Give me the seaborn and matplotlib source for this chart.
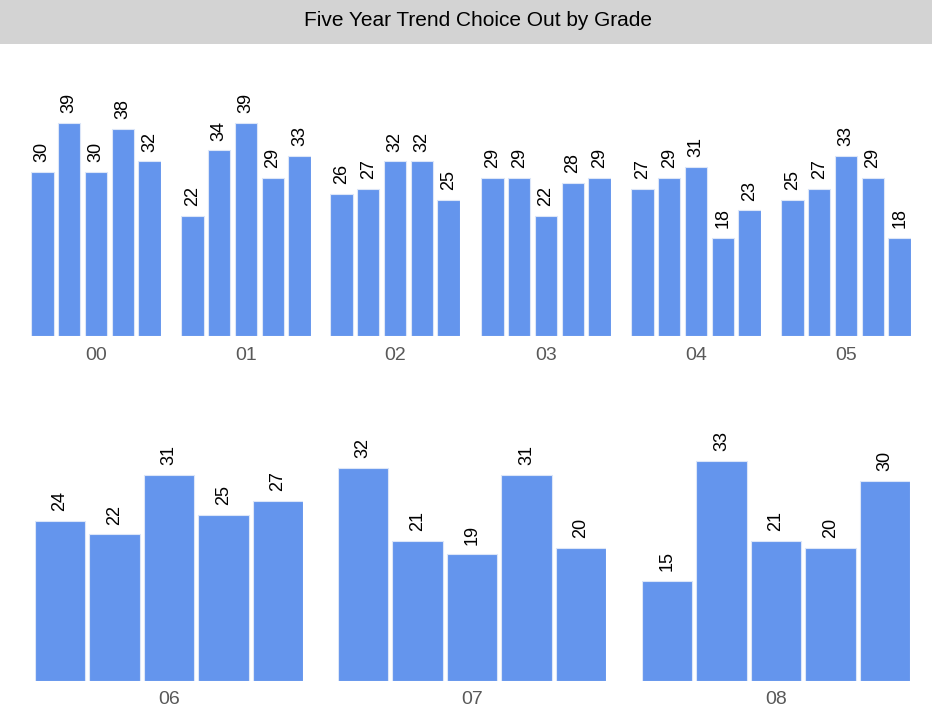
import matplotlib
matplotlib.use("Agg")
import matplotlib.pyplot as plt
import seaborn as sns
import pandas as pd
from matplotlib.patches import Rectangle

sns.set_theme(style="white")
plt.rcParams['font.family'] = ['Liberation Sans', 'DejaVu Sans']

title = "Five Year Trend Choice Out by Grade"
grades = ["00", "01", "02", "03", "04", "05", "06", "07", "08"]
years = ["Y1", "Y2", "Y3", "Y4", "Y5"]
g00 = [30, 39, 30, 38, 32]
g01 = [22, 34, 39, 29, 33]
g02 = [26, 27, 32, 32, 25]
g03 = [29, 29, 22, 28, 29]
g04 = [27, 29, 31, 18, 23]
g05 = [25, 27, 33, 29, 18]
g06 = [24, 22, 31, 25, 27]
g07 = [32, 21, 19, 31, 20]
g08 = [15, 33, 21, 20, 30]
values = [g00, g01, g02, g03, g04, g05, g06, g07, g08]

W, H = 940, 726
fig = plt.figure(figsize=(W / 100, H / 100), dpi=100)
fig.patch.set_facecolor("white")

# title banner
fig.patches.append(Rectangle((0, 1 - 44 / H), 932 / W, 44 / H, transform=fig.transFigure,
                             facecolor="#D3D3D3", edgecolor="none", zorder=0))
fig.text(478 / W, 1 - 20 / H, title, ha="center", va="center", fontsize=15, color="black")

bar_color = "#6495ED"

# layout in pixels: (left, right, baseline, top, ylim_top, bar width)
top_lefts = [31, 181, 330, 481, 631, 781]
top_w = 130
bot_lefts = [35, 338, 642]
bot_w = 268

layouts = []
for l in top_lefts:
    layouts.append((l, l + top_w, 336, 60, 276 / 5.46, 0.84))
for l in bot_lefts:
    layouts.append((l, l + bot_w, 681, 420, 261 / 6.66, 0.92))

for grade, vals, (l, r, base, top, ytop, bw) in zip(grades, values, layouts):
    ax = fig.add_axes([l / W, 1 - base / H, (r - l) / W, (base - top) / H])
    df = pd.DataFrame({"year": years, "count": vals})
    sns.barplot(data=df, x="year", y="count", order=years, ax=ax, color=bar_color,
                saturation=1, width=bw, edgecolor="#DCE6F8", linewidth=0.8)
    ax.set_xlim(-bw / 2, len(years) - 1 + bw / 2)
    ax.set_ylim(0, ytop)
    for c in ax.containers:
        ax.bar_label(c, labels=[str(v) for v in vals], rotation=90, padding=7,
                     fontsize=13, color="black")
    ax.set_xticks([])
    ax.set_yticks([])
    ax.set_xlabel("")
    ax.set_ylabel("")
    for s in ax.spines.values():
        s.set_visible(False)
    ax.patch.set_alpha(0)
    ax.text(0.5, -19 / (base - top), grade, transform=ax.transAxes, ha="center",
            va="center", fontsize=14, color="#595959")

fig.savefig("out.png", dpi=100)
